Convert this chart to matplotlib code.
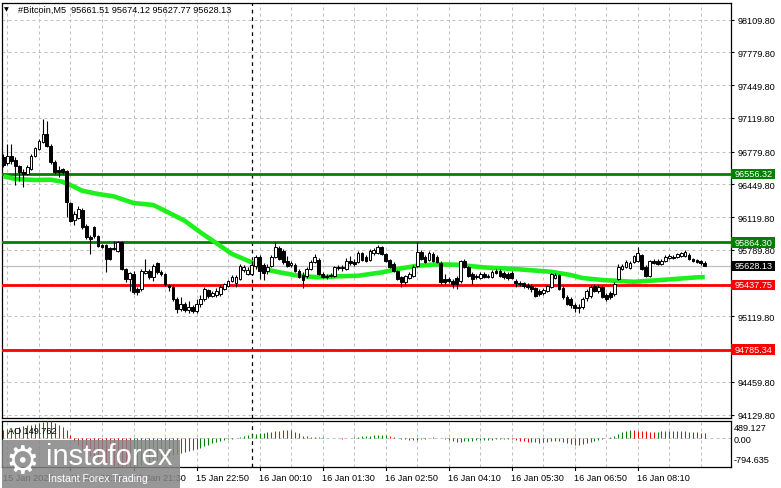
import matplotlib
matplotlib.use('Agg')
import matplotlib.pyplot as plt
import numpy as np
from matplotlib.patches import Rectangle
from matplotlib.transforms import blended_transform_factory as blend

# ---------------- data ----------------
opens = [96725, 96665, 96735, 96695, 96635, 96574, 96554, 96604, 96735, 96806,
         96877, 96957, 96836, 96675, 96594, 96604, 96584, 96262, 96090, 96110,
         96191, 96030, 95919, 96020, 95929, 95838, 95838, 95808, 95808, 95778,
         95869, 95596, 95496, 95546, 95395, 95395, 95556, 95576, 95516, 95657,
         95566, 95546, 95435, 95415, 95294, 95193, 95244, 95183, 95213, 95173,
         95244, 95294, 95385, 95324, 95334, 95344, 95395, 95425, 95475, 95455,
         95496, 95586, 95546, 95546, 95627, 95717, 95637, 95576, 95627, 95717,
         95808, 95778, 95677, 95637, 95637, 95576, 95536, 95526, 95596, 95667,
         95687, 95546, 95526, 95526, 95526, 95617, 95606, 95596, 95677, 95667,
         95667, 95758, 95717, 95687, 95758, 95758, 95818, 95748, 95687, 95647,
         95576, 95516, 95465, 95506, 95526, 95627, 95768, 95717, 95687, 95748,
         95717, 95657, 95496, 95496, 95475, 95506, 95475, 95677, 95617, 95546,
         95526, 95506, 95546, 95526, 95516, 95576, 95576, 95556, 95546, 95556,
         95475, 95455, 95455, 95435, 95425, 95405, 95375, 95354, 95375, 95415,
         95506, 95536, 95405, 95314, 95294, 95234, 95203, 95213, 95304, 95324,
         95425, 95375, 95415, 95334, 95354, 95344, 95496, 95596, 95617, 95606,
         95667, 95677, 95738, 95617, 95526, 95677, 95677, 95647, 95677, 95707,
         95717, 95717, 95727, 95727, 95738, 95697, 95687, 95677, 95661.51]
highs = [96756, 96856, 96856, 96725, 96645, 96604, 96645, 96756, 96826, 96907,
         97108, 97088, 96856, 96695, 96635, 96614, 96594, 96272, 96181, 96231,
         96211, 96050, 95939, 96030, 95939, 95848, 95848, 95818, 95879, 95879,
         95879, 95606, 95566, 95576, 95415, 95596, 95697, 95596, 95647, 95667,
         95586, 95556, 95445, 95435, 95314, 95314, 95264, 95274, 95234, 95294,
         95334, 95415, 95395, 95375, 95405, 95435, 95455, 95486, 95536, 95536,
         95647, 95637, 95617, 95677, 95738, 95738, 95657, 95647, 95738, 95869,
         95828, 95798, 95727, 95677, 95657, 95596, 95566, 95617, 95687, 95748,
         95707, 95566, 95546, 95556, 95627, 95637, 95637, 95707, 95727, 95697,
         95778, 95768, 95738, 95798, 95808, 95838, 95828, 95758, 95697, 95667,
         95586, 95526, 95536, 95566, 95637, 95869, 95788, 95738, 95778, 95768,
         95738, 95677, 95546, 95516, 95496, 95526, 95687, 95697, 95627, 95566,
         95546, 95566, 95566, 95546, 95586, 95596, 95596, 95576, 95566, 95576,
         95496, 95475, 95465, 95455, 95445, 95415, 95395, 95405, 95435, 95556,
         95556, 95546, 95425, 95334, 95314, 95254, 95244, 95314, 95395, 95435,
         95445, 95435, 95425, 95354, 95375, 95465, 95647, 95647, 95687, 95677,
         95738, 95818, 95748, 95637, 95687, 95697, 95697, 95697, 95738, 95748,
         95738, 95758, 95768, 95788, 95758, 95707, 95697, 95687, 95674.12]
lows = [96625, 96645, 96655, 96443, 96483, 96423, 96544, 96594, 96725, 96796,
        96866, 96826, 96655, 96554, 96524, 96554, 96121, 96070, 96040, 96100,
        96000, 95899, 95748, 95909, 95818, 95808, 95566, 95687, 95788, 95768,
        95586, 95465, 95375, 95344, 95334, 95375, 95546, 95496, 95475, 95546,
        95526, 95425, 95375, 95274, 95153, 95173, 95163, 95153, 95153, 95153,
        95213, 95274, 95304, 95314, 95314, 95324, 95385, 95415, 95465, 95415,
        95486, 95566, 95536, 95536, 95596, 95496, 95486, 95546, 95617, 95707,
        95687, 95647, 95617, 95617, 95566, 95506, 95405, 95506, 95586, 95657,
        95536, 95506, 95496, 95516, 95516, 95586, 95576, 95586, 95637, 95627,
        95657, 95677, 95667, 95677, 95738, 95748, 95738, 95667, 95606, 95566,
        95486, 95415, 95445, 95496, 95516, 95617, 95687, 95657, 95677, 95667,
        95657, 95445, 95445, 95455, 95405, 95395, 95455, 95606, 95516, 95445,
        95496, 95496, 95506, 95506, 95506, 95546, 95516, 95496, 95486, 95496,
        95415, 95425, 95405, 95395, 95365, 95314, 95324, 95334, 95365, 95405,
        95496, 95385, 95294, 95234, 95203, 95163, 95153, 95193, 95274, 95304,
        95365, 95354, 95304, 95274, 95294, 95324, 95486, 95586, 95606, 95596,
        95657, 95667, 95586, 95516, 95516, 95647, 95637, 95637, 95667, 95697,
        95697, 95707, 95717, 95717, 95687, 95667, 95657, 95637, 95627.77]
closes = [96645, 96735, 96685, 96635, 96574, 96554, 96625, 96735, 96816, 96887,
          96957, 96836, 96675, 96574, 96574, 96574, 96272, 96080, 96151, 96201,
          96020, 95919, 95899, 95929, 95828, 95818, 95697, 95697, 95798, 95869,
          95596, 95496, 95556, 95365, 95365, 95576, 95576, 95516, 95627, 95566,
          95546, 95445, 95415, 95294, 95193, 95244, 95183, 95213, 95173, 95244,
          95294, 95395, 95324, 95354, 95375, 95415, 95445, 95475, 95516, 95516,
          95627, 95617, 95586, 95637, 95717, 95576, 95556, 95617, 95717, 95818,
          95697, 95667, 95627, 95657, 95576, 95516, 95486, 95596, 95667, 95717,
          95546, 95516, 95516, 95536, 95617, 95606, 95617, 95677, 95657, 95647,
          95758, 95687, 95677, 95778, 95788, 95818, 95748, 95677, 95617, 95576,
          95496, 95465, 95526, 95546, 95617, 95768, 95697, 95667, 95758, 95677,
          95667, 95465, 95465, 95475, 95445, 95445, 95677, 95617, 95526, 95496,
          95516, 95546, 95516, 95521, 95566, 95556, 95526, 95516, 95506, 95506,
          95455, 95445, 95425, 95415, 95395, 95324, 95344, 95385, 95425, 95546,
          95536, 95395, 95314, 95244, 95234, 95203, 95213, 95294, 95375, 95415,
          95375, 95415, 95314, 95294, 95314, 95445, 95617, 95627, 95667, 95657,
          95727, 95758, 95596, 95526, 95677, 95657, 95647, 95677, 95717, 95727,
          95707, 95748, 95758, 95768, 95697, 95677, 95667, 95657, 95628.13]

# moving average, read at selected bars
ma_bar = [0, 3, 8, 12, 15, 17, 20, 24, 28, 33, 38, 41, 46, 50, 54, 58, 63, 66, 71,
          75, 80, 85, 90, 96, 101, 105, 110, 115, 122, 130, 139, 144, 147, 152,
          160, 168, 176, 178]
ma_val = [96531, 96504, 96494, 96497, 96476, 96443, 96386, 96353, 96329, 96262,
          96242, 96184, 96083, 95966, 95858, 95748, 95664, 95596, 95556, 95529,
          95513, 95523, 95529, 95563, 95604, 95630, 95644, 95640, 95613, 95596,
          95569, 95536, 95506, 95486, 95468, 95489, 95513, 95516]

ao = [230, 250, 270, 300, 320, 340, 360, 380, 400, 430, 460, 489.127,
      470, 430, 380, 320,
      220, 90, -60, -190, -300, -400, -480, -550, -610, -660, -700, -735, -760,
      -775, -785, -790, -794.635,
      -780, -760, -735, -705, -670, -635, -600, -565, -530, -500, -470, -445,
      -420, -390, -355, -320, -290,
      -260, -220, -180, -140, -105, -75, -50, -25, -5, 15, 40, 70, 95, 115,
      130, 140, 150, 170, 185, 190, 205, 225, 235, 225, 185, 150, 75, 55, 45,
      50, 45, 35, 20, 8, 2, -3, -5,
      10, 20, 35, 45, 55, 65, 70, 80, 85, 95, 100,
      75, 45, 15, -10, -30, -40, -50, -45, -25, -5, 15, 25, 20, 5, -20, -50,
      -85, -110, -100, -85, -70, -60, -55, -50, -45, -40, -35, -32, -30, -28, -25,
      -30, -45, -60, -75, -90, -100, -115, -120, -110, -95, -75, -60, -70, -100,
      -130, -160, -185, -175, -150, -120, -90, -60, -35, -15, 5, 30, 70, 120,
      165, 200, 235, 225, 215, 205, 195, 185, 175, 185, 195, 200, 205, 210, 215,
      205, 195, 185, 175, 165, 155, 149.762]

green_levels = [96556.32, 95864.30]
red_levels = [95437.75, 94785.34]
bid = 95628.13

price_ticks = [98109.80, 97779.80, 97449.80, 97119.80, 96779.80, 96449.80,
               96119.80, 95789.80, 95449.80, 95119.80, 94789.80, 94459.80, 94129.80]
price_tick_labels = ['98109.80', '97779.80', '97449.80', '97119.80', '96779.80',
                     '96449.80', '96119.80', '95789.80', '', '95119.80', '',
                     '94459.80', '94129.80']
time_bars = [17, 33, 49, 65, 81, 97, 113, 129, 145, 161]
time_labels = ['15 Jan 20:10', '15 Jan 21:30', '15 Jan 22:50', '16 Jan 00:10',
               '16 Jan 01:30', '16 Jan 02:50', '16 Jan 04:10', '16 Jan 05:30',
               '16 Jan 06:50', '16 Jan 08:10']
first_label = '15 Jan 2026'
separator_bar = 63
title = '#Bitcoin,M5  95661.51 95674.12 95627.77 95628.13'
ao_title = 'AO 149.762'
ao_max, ao_min = 489.127, -794.635

n = len(closes)
assert len(opens) == len(highs) == len(lows) == n == len(ao)

# ---------------- figure ----------------
W, H = 781, 489
FONT = 'Liberation Sans'
FS = 6.6
fig = plt.figure(figsize=(W / 100, H / 100), dpi=100)
fig.patch.set_facecolor('white')


def fpx(x0, y0, x1, y1):
    return [x0 / W, 1 - y1 / H, (x1 - x0) / W, (y1 - y0) / H]


ax = fig.add_axes(fpx(2, 4, 731, 419))
ax2 = fig.add_axes(fpx(2, 421.7, 731, 468))

xl = (-0.38, -0.38 + 729 / 3.94)
for a in (ax, ax2):
    a.set_xlim(*xl)
    a.set_facecolor('white')
    for s in a.spines.values():
        s.set_color('black')
        s.set_linewidth(0.9)
    a.set_xticks([])

ax.set_ylim(98318.5 - 10.08 * 419, 98318.5 - 10.08 * 4)
ax2.set_ylim(ao_min, ao_max)

grid_kw = dict(color='#c0c0c0', lw=0.72, ls=(0, (3, 3)), zorder=0)
vgrid = list(range(1, n + 8, 8))
for g in vgrid:
    ax.axvline(g, **grid_kw)
    ax2.axvline(g, **grid_kw)
for t in price_ticks:
    ax.axhline(t, **grid_kw)
ax2.axhline(0, **grid_kw)

# separator
for a in (ax, ax2):
    a.axvline(separator_bar, color='black', lw=0.9, ls=(0, (3, 3)), zorder=1)

# bid line
ax.axhline(bid, color='#c0c0c0', lw=0.9, zorder=1)

# levels
for lv in green_levels:
    ax.axhline(lv, color='#008000', lw=2.0, zorder=3)
for lv in red_levels:
    ax.axhline(lv, color='#ff0000', lw=2.0, zorder=3)

# moving average
ax.plot(ma_bar, ma_val, color='#1ef01e', lw=3.3, zorder=4, solid_capstyle='butt',
        solid_joinstyle='round')

# candles
x = np.arange(n)
o = np.array(opens, float); c = np.array(closes, float)
hi = np.array(highs, float); lo = np.array(lows, float)
ax.vlines(x, lo, hi, colors='black', lw=0.8, zorder=5)
bull = c >= o
body_h = np.maximum(np.abs(c - o), 4)
ax.bar(x, body_h, bottom=np.minimum(o, c), width=0.7,
       color=np.where(bull, 'white', 'black'), edgecolor='black', linewidth=0.7,
       zorder=6)

# right price axis
ax.yaxis.tick_right()
ax.set_yticks(price_ticks)
ax.set_yticklabels(price_tick_labels, fontsize=FS, family=FONT)
ax.tick_params(axis='y', length=2.5, width=0.8, pad=2.2, colors='black')
ax2.set_yticks([])

tr = blend(ax.transAxes, ax.transData)
box_w = 44 / 729
box_h = 10.5 * 10.08


def price_box(val, fc, tc='white'):
    ax.add_patch(Rectangle((1.0, val - box_h / 2), box_w, box_h, transform=tr,
                           facecolor=fc, edgecolor='none', clip_on=False, zorder=10))
    ax.text(1.0 + 4 / 729, val, f'{val:.2f}', transform=tr, ha='left', va='center',
            fontsize=FS, family=FONT, color=tc, zorder=11, clip_on=False)


for lv in green_levels:
    price_box(lv, '#008000')
for lv in red_levels:
    price_box(lv, '#ff0000')
price_box(bid, 'black')

# AO histogram
ao_arr = np.array(ao, float)
prev = np.concatenate([[ao_arr[0] - 1], ao_arr[:-1]])
ao_col = np.where(ao_arr >= prev, '#008000', '#ff0000')
ax2.vlines(x, 0, ao_arr, colors=ao_col, lw=0.75, zorder=3)

ax2.text(0.008, 0.78, ao_title, transform=ax2.transAxes, fontsize=FS, family=FONT,
         color='black', va='center', ha='left', zorder=6)

for txt, ypx in [(f'{ao_max:.3f}', 428.5), ('0.00', 440.5), (f'{ao_min:.3f}', 461)]:
    fig.text(734 / W, 1 - ypx / H, txt, fontsize=FS, family=FONT, va='center',
             ha='left', color='black')

# title
fig.text(4 / W, 1 - 10 / H, '\u25bc', fontsize=4.5, family='DejaVu Sans',
         va='center', ha='left', color='black')
fig.text(18 / W, 1 - 10 / H, title, fontsize=FS, family=FONT, va='center',
         ha='left', color='black')

# time axis
trx = blend(ax2.transData, ax2.transAxes)
ax2.text(-0.1, -0.22, first_label, transform=trx, fontsize=FS, family=FONT,
         va='center', ha='left', color='black', clip_on=False)
for b, lab in zip(time_bars, time_labels):
    ax2.text(b - 0.1, -0.22, lab, transform=trx, fontsize=FS, family=FONT,
             va='center', ha='left', color='black', clip_on=False)
    ax2.plot([b, b], [0, -0.07], transform=trx, color='black', lw=0.8,
             clip_on=False)

# watermark
wm = Rectangle((2 / W, 0), 178 / W, 48 / H, transform=fig.transFigure,
               facecolor='#858585', edgecolor='none', alpha=0.85, zorder=20)
fig.add_artist(wm)
fig.text(22 / W, 1 - 463 / H, '\u2699', fontsize=27, family='DejaVu Sans',
         color='white', ha='center', va='center', zorder=21)
fig.text(46 / W, 1 - 465 / H, 'instaforex', fontsize=21, family=FONT,
         color='white', ha='left', va='baseline', zorder=21)
fig.text(48 / W, 1 - 479 / H, 'Instant Forex Trading', fontsize=7.6, family=FONT,
         color='white', ha='left', va='center', zorder=21)

fig.savefig('out.png', dpi=100, facecolor='white')
